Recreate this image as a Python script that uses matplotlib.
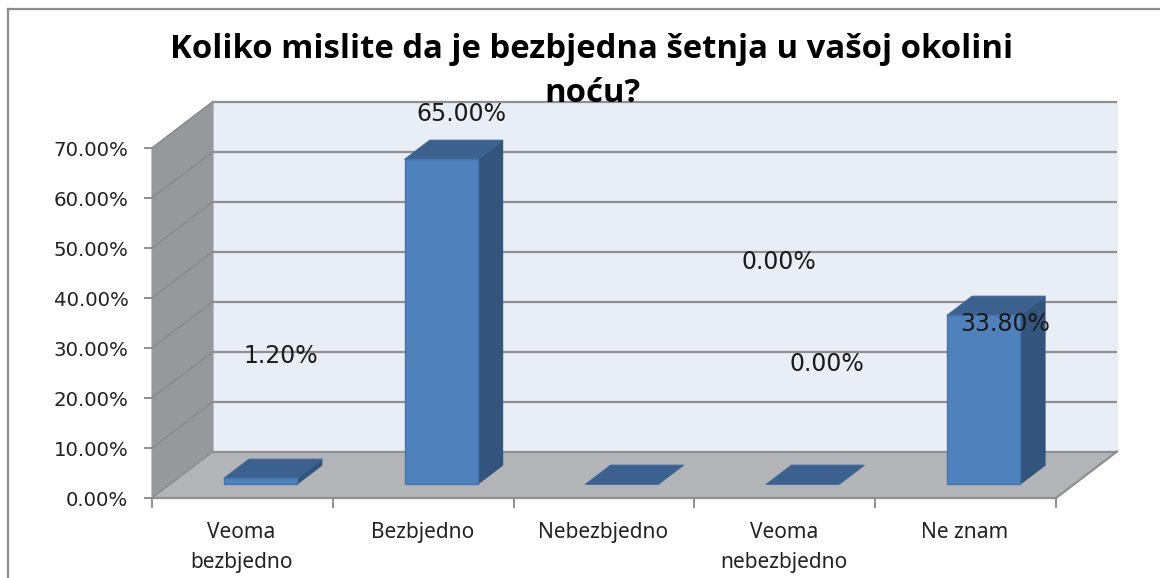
import matplotlib
matplotlib.use("Agg")
import matplotlib.pyplot as plt
from matplotlib.patches import Polygon

categories = ["Veoma\nbezbjedno", "Bezbjedno", "Nebezbjedno", "Veoma\nnebezbjedno", "Ne znam"]
values = [1.2, 65.0, 0.0, 0.0, 33.8]
value_labels = ["1.20%", "65.00%", "0.00%", "0.00%", "33.80%"]
y_ticks = [0, 10, 20, 30, 40, 50, 60, 70]
title_lines = ["Koliko mislite da je bezbjedna šetnja u vašoj okolini", "noću?"]

W, H = 1160, 578
# depth axis of the fake 3d box, as a shift per unit of depth
DEPTH_X = 61 / 180.8
DEPTH_Y = 46.5 / 5.0
BAR_WIDTH = 0.403
BAR_D0, BAR_D1 = 0.295, 0.705

# where excel left the data labels, in pixels
label_pos = [(281, 356), (461, 114), (779, 262), (827, 364), (1005, 324)]
title_pos = [(592, 50), (592, 94)]

GRID = "#8f8f8f"


def pt(x, y, d=0.0):
    return (x + d * DEPTH_X, y + d * DEPTH_Y)


def face(ax, pts, color, edge=None, z=2, lw=0.8):
    ax.add_patch(Polygon(pts, closed=True, facecolor=color, edgecolor=edge or color,
                         linewidth=lw, zorder=z, clip_on=False, joinstyle="round"))


fig = plt.figure(figsize=(W / 100, H / 100), dpi=100)
ax = fig.add_axes([152 / W, 1 - 498 / H, 904 / W, 350 / H])
ax.set_xlim(0, len(categories))
ax.set_ylim(0, y_ticks[-1])
ax.patch.set_visible(False)
for s in ax.spines.values():
    s.set_visible(False)

top = y_ticks[-1]
n = len(categories)

# walls and floor
face(ax, [pt(0, 0, 1), pt(0, top, 1), pt(n, top, 1), pt(n, 0, 1)], "#e9edf6", z=1)
face(ax, [pt(0, 0), pt(0, top), pt(0, top, 1), pt(0, 0, 1)], "#96989b", z=1)
face(ax, [pt(0, 0), pt(0, 0, 1), pt(n, 0, 1), pt(n, 0)], "#b2b4b7", z=1)

for t in y_ticks:
    xs, ys = zip(pt(0, t), pt(0, t, 1))
    ax.plot(xs, ys, color="#87898b", lw=1.0, zorder=1.5, clip_on=False)
    xs, ys = zip(pt(0, t, 1), pt(n, t, 1))
    ax.plot(xs, ys, color=GRID, lw=1.6, zorder=1.5, clip_on=False, solid_capstyle="butt")
xs, ys = zip(pt(n, 0, 1), pt(n, 0), pt(0, 0))
ax.plot(xs, ys, color=GRID, lw=1.6, zorder=1.5, clip_on=False)

# bars
for i, v in enumerate(values):
    x0 = i + 0.5 - BAR_WIDTH / 2
    x1 = i + 0.5 + BAR_WIDTH / 2
    if v > 0:
        face(ax, [pt(x1, 0, BAR_D0), pt(x1, v, BAR_D0), pt(x1, v, BAR_D1), pt(x1, 0, BAR_D1)], "#32547d", z=3)
    face(ax, [pt(x0, v, BAR_D0), pt(x0, v, BAR_D1), pt(x1, v, BAR_D1), pt(x1, v, BAR_D0)],
         "#3c618f", edge="#3f6797", z=3)
    if v > 0:
        face(ax, [pt(x0, 0, BAR_D0), pt(x0, v, BAR_D0), pt(x1, v, BAR_D0), pt(x1, 0, BAR_D0)],
             "#4f81bd", edge="#4674ad", z=4, lw=1.0)

ax.set_yticks(y_ticks)
ax.set_yticklabels(["{:.2f}%".format(t) for t in y_ticks], fontsize=14.2, color="#222222")
ax.set_xticks(range(n + 1))
ax.set_xticklabels([""] * (n + 1))
ax.tick_params(axis="y", length=6, width=1.4, color=GRID, pad=11)
ax.tick_params(axis="x", length=7, width=1.4, color=GRID)

# category labels sit between the ticks
for i, c in enumerate(categories):
    ax.annotate(c, xy=(i + 0.5, 0), xycoords="data", xytext=(-1, -24), textcoords="offset pixels",
                ha="center", va="top", fontsize=15, family="Noto Sans", color="#222222",
                linespacing=1.58, annotation_clip=False)

for (px, py), lab in zip(label_pos, value_labels):
    fig.text(px / W, 1 - py / H, lab, ha="center", va="center", fontsize=17, color="#1a1a1a", zorder=6)

for (px, py), line in zip(title_pos, title_lines):
    fig.text(px / W, 1 - py / H, line, ha="center", va="center", fontsize=23.7, fontweight="bold",
             family="Open Sans", color="black", zorder=5)

# chart frame, cut off on the right and at the bottom
fig.add_artist(plt.Line2D([8 / W, 8 / W], [0, 1 - 9 / H], color="#8c8c8c", lw=1.6))
fig.add_artist(plt.Line2D([8 / W, 1], [1 - 9 / H, 1 - 9 / H], color="#8c8c8c", lw=1.6))

fig.savefig("out.png", dpi=100)
